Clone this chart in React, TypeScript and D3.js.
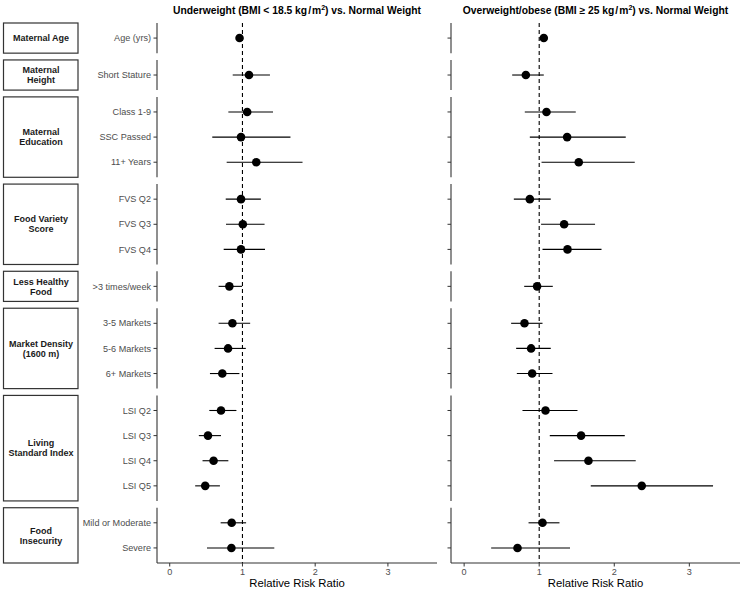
import React from "react";
import * as d3 from "d3";

const groupLines: string[][] = [
  ["Maternal Age"],
  ["Maternal", "Height"],
  ["Maternal", "Education"],
  ["Food Variety", "Score"],
  ["Less Healthy", "Food"],
  ["Market Density", "(1600 m)"],
  ["Living", "Standard Index"],
  ["Food", "Insecurity"],
];

const variables = [
  "Age (yrs)",
  "Short Stature",
  "Class 1-9",
  "SSC Passed",
  "11+ Years",
  "FVS Q2",
  "FVS Q3",
  "FVS Q4",
  ">3 times/week",
  "3-5 Markets",
  "5-6 Markets",
  "6+ Markets",
  "LSI Q2",
  "LSI Q3",
  "LSI Q4",
  "LSI Q5",
  "Mild or Moderate",
  "Severe",
];
const variableGroup = [0, 1, 2, 2, 2, 3, 3, 3, 4, 5, 5, 5, 6, 6, 6, 6, 7, 7];

const underRR = [0.96, 1.09, 1.065, 0.98, 1.19, 0.98, 1.005, 0.98, 0.82, 0.862, 0.802, 0.723, 0.705, 0.526, 0.603, 0.488, 0.852, 0.848];
const underLo = [0.94, 0.866, 0.806, 0.585, 0.783, 0.77, 0.774, 0.742, 0.672, 0.672, 0.617, 0.553, 0.544, 0.4, 0.451, 0.35, 0.7, 0.512];
const underHi = [0.98, 1.378, 1.42, 1.66, 1.826, 1.253, 1.304, 1.31, 0.995, 1.106, 1.046, 0.958, 0.917, 0.705, 0.806, 0.69, 1.05, 1.438];

const overRR = [1.061, 0.822, 1.097, 1.372, 1.527, 0.875, 1.332, 1.377, 0.972, 0.804, 0.892, 0.906, 1.084, 1.558, 1.656, 2.366, 1.044, 0.711];
const overLo = [1.045, 0.64, 0.808, 0.875, 1.031, 0.662, 1.025, 1.044, 0.8, 0.626, 0.693, 0.702, 0.777, 1.141, 1.198, 1.687, 0.858, 0.36];
const overHi = [1.078, 1.061, 1.487, 2.153, 2.273, 1.154, 1.744, 1.83, 1.181, 1.044, 1.154, 1.177, 1.51, 2.14, 2.286, 3.316, 1.27, 1.411];

const xTicks = [0, 1, 2, 3];
const xLimits = [0, 3.5];

const W = 743;
const H = 591;
const FONT = "'Liberation Sans', Arial, Helvetica, sans-serif";

export default function App() {
  const top = 23;
  const bottom = 563;
  const gap = 6.8;
  const counts = groupLines.map((_, g) => variableGroup.filter((v) => v === g).length);
  const totalUnits = d3.sum(counts, (c) => c + 0.2);
  const unit = (bottom - top - gap * (groupLines.length - 1)) / totalUnits;

  const panels: { y0: number; y1: number; scale: d3.ScalePoint<string> }[] = [];
  let cur = top;
  groupLines.forEach((_, g) => {
    const h = (counts[g] + 0.2) * unit;
    const items = variables.filter((_, i) => variableGroup[i] === g);
    const scale = d3.scalePoint<string>().domain(items).range([cur, cur + h]).padding(0.6);
    panels.push({ y0: cur, y1: cur + h, scale });
    cur += h + gap;
  });

  const ext = (xLimits[1] - xLimits[0]) * 0.05;
  const dom = [xLimits[0] - ext, xLimits[1] + ext];
  const xLeft = d3.scaleLinear().domain(dom).range([157, 437]);
  const xRight = d3.scaleLinear().domain(dom).range([451, 740]);

  const yOf = (i: number) => panels[variableGroup[i]].scale(variables[i]) as number;

  const renderPanel = (
    x: d3.ScaleLinear<number, number>,
    rr: number[],
    lo: number[],
    hi: number[],
    showLabels: boolean,
    title: React.ReactNode
  ) => {
    const [r0, r1] = x.range();
    return (
      <g>
        <text x={(r0 + r1) / 2} y={13.5} textAnchor="middle" fontWeight="bold" fontSize={10.3} fill="#000">
          {title}
        </text>
        {panels.map((p, g) => (
          <g key={g}>
            <line x1={r0} x2={r0} y1={p.y0} y2={p.y1} stroke="#333" strokeWidth={1.1} />
            {p.scale.domain().map((v) => (
              <g key={v}>
                <line x1={r0 - 3.5} x2={r0} y1={p.scale(v)} y2={p.scale(v)} stroke="#333" strokeWidth={1} />
                {showLabels && (
                  <text x={r0 - 6} y={p.scale(v)} dy="0.35em" textAnchor="end" fontSize={9.1} fill="#4d4d4d">
                    {v}
                  </text>
                )}
              </g>
            ))}
          </g>
        ))}
        <line x1={x(1)} x2={x(1)} y1={top} y2={bottom} stroke="#000" strokeWidth={1.1} strokeDasharray="4,3" />
        {variables.map((v, i) => (
          <g key={v}>
            <line x1={x(lo[i])} x2={x(hi[i])} y1={yOf(i)} y2={yOf(i)} stroke="#000" strokeWidth={1.1} />
            <circle cx={x(rr[i])} cy={yOf(i)} r={4.3} fill="#000" />
          </g>
        ))}
        <line x1={r0} x2={r1} y1={bottom} y2={bottom} stroke="#333" strokeWidth={1.1} />
        {xTicks.map((t) => (
          <g key={t}>
            <line x1={x(t)} x2={x(t)} y1={bottom} y2={bottom + 3.5} stroke="#333" strokeWidth={1} />
            <text x={x(t)} y={574.7} textAnchor="middle" fontSize={9.1} fill="#4d4d4d">
              {t}
            </text>
          </g>
        ))}
        <text x={(r0 + r1) / 2} y={587.3} textAnchor="middle" fontSize={11.3} fill="#000">
          Relative Risk Ratio
        </text>
      </g>
    );
  };

  return (
    <svg
      width={W}
      height={H}
      style={{ position: "absolute", left: 0, top: 0, display: "block", background: "#fff" }}
      fontFamily={FONT}
    >
      <rect width={W} height={H} fill="#fff" />
      {panels.map((p, g) => {
        const lines = groupLines[g];
        const cy = (p.y0 + p.y1) / 2;
        const lh = 10;
        return (
          <g key={g}>
            <rect x={3.5} y={p.y0} width={74.5} height={p.y1 - p.y0} fill="#fff" stroke="#333" strokeWidth={1.2} />
            {lines.map((l, k) => (
              <text
                key={k}
                x={41}
                y={cy + (k - (lines.length - 1) / 2) * lh}
                dy="0.35em"
                textAnchor="middle"
                fontWeight="bold"
                fontSize={9}
                fill="#1a1a1a"
              >
                {l}
              </text>
            ))}
          </g>
        );
      })}
      {renderPanel(
        xLeft,
        underRR,
        underLo,
        underHi,
        true,
        <>
          Underweight (BMI &lt; 18.5 kg
          <tspan dx={1}>/</tspan>
          <tspan dx={1}>m</tspan>
          <tspan dy={-4} fontSize={7}>2</tspan>
          <tspan dy={4}>) vs. Normal Weight</tspan>
        </>
      )}
      {renderPanel(
        xRight,
        overRR,
        overLo,
        overHi,
        false,
        <>
          Overweight/obese (BMI ≥ 25 kg
          <tspan dx={1}>/</tspan>
          <tspan dx={1}>m</tspan>
          <tspan dy={-4} fontSize={7}>2</tspan>
          <tspan dy={4}>) vs. Normal Weight</tspan>
        </>
      )}
    </svg>
  );
}
